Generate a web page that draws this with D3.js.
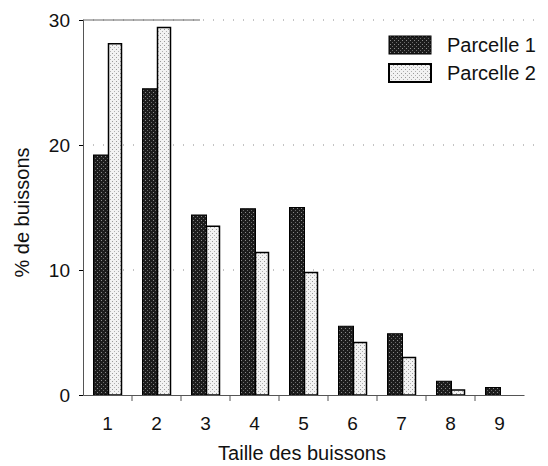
<!DOCTYPE html>
<html>
<head>
<meta charset="utf-8">
<script src="https://cdn.jsdelivr.net/npm/d3@7"></script>
<style>
body { margin: 0; background: #fff; }
text { font-family: "Liberation Sans", Arial, sans-serif; fill: #111; }
</style>
</head>
<body>
<script>
const categories = ["1","2","3","4","5","6","7","8","9"];
const parcelle1 = [19.2, 24.5, 14.4, 14.9, 15.0, 5.5, 4.9, 1.1, 0.6];
const parcelle2 = [28.1, 29.4, 13.5, 11.4, 9.8, 4.2, 3.0, 0.4, 0];
const yTicks = [0, 10, 20, 30];
const seriesNames = ["Parcelle 1", "Parcelle 2"];

const W = 548, H = 466;
const svg = d3.select("body").append("svg").attr("width", W).attr("height", H);

const defs = svg.append("defs");
// stippled fills
const p1 = defs.append("pattern").attr("id","dark").attr("patternUnits","userSpaceOnUse")
  .attr("width",4).attr("height",4);
p1.append("rect").attr("width",4).attr("height",4).attr("fill","#1c1c1c");
p1.append("rect").attr("x",1).attr("y",0).attr("width",1).attr("height",1).attr("fill","#8a8a8a");
p1.append("rect").attr("x",3).attr("y",2).attr("width",1).attr("height",1).attr("fill","#6a6a6a");
const p2 = defs.append("pattern").attr("id","light").attr("patternUnits","userSpaceOnUse")
  .attr("width",4).attr("height",4);
p2.append("rect").attr("width",4).attr("height",4).attr("fill","#f2f2f2");
p2.append("rect").attr("x",0).attr("y",1).attr("width",1).attr("height",1).attr("fill","#999");
p2.append("rect").attr("x",2).attr("y",3).attr("width",1).attr("height",1).attr("fill","#b0b0b0");

const x0 = 83, x1 = 524, yTop = 20, yBot = 395;

const x = d3.scaleBand().domain(categories).range([x0, x1]);
const y = d3.scaleLinear().domain([0, 30]).range([yBot, yTop]);

// grid
svg.append("g").selectAll("line").data(yTicks.filter(d => d > 0)).join("line")
  .attr("x1", x0).attr("x2", 540)
  .attr("y1", d => y(d)).attr("y2", d => y(d))
  .attr("stroke", "#888").attr("stroke-width", 1)
  .attr("stroke-dasharray", "1,9");
// top line is heavier near the axis
svg.append("line").attr("x1", x0).attr("x2", 200)
  .attr("y1", y(30)).attr("y2", y(30)).attr("stroke", "#666");

// y axis
const ya = svg.append("g").attr("transform", `translate(${x0},0)`)
  .call(d3.axisLeft(y).tickValues(yTicks).tickSize(4).tickPadding(9));
ya.select(".domain").attr("stroke", "#555");
ya.selectAll("text").style("font-size", "19px").attr("font-family", "Liberation Sans, Arial, sans-serif");

// bars
const g = svg.append("g").selectAll("g").data(categories).join("g");
g.append("rect")
  .attr("x", d => x(d) + x.bandwidth()/2 - 14)
  .attr("width", 15)
  .attr("y", (d, i) => y(parcelle1[i]))
  .attr("height", (d, i) => yBot - y(parcelle1[i]))
  .attr("fill", "url(#dark)").attr("stroke", "#000").attr("stroke-width", 1);
g.filter((d, i) => parcelle2[i] > 0).append("rect")
  .attr("x", d => x(d) + x.bandwidth()/2 + 1)
  .attr("width", 13)
  .attr("y", d => y(parcelle2[categories.indexOf(d)]))
  .attr("height", d => yBot - y(parcelle2[categories.indexOf(d)]))
  .attr("fill", "url(#light)").attr("stroke", "#000").attr("stroke-width", 1.5);

// x axis
const xa = svg.append("g").attr("transform", `translate(0,${yBot})`)
  .call(d3.axisBottom(x).tickSize(0).tickPadding(22));
xa.select(".domain").attr("stroke", "#555");
xa.selectAll("text").style("font-size", "19px").attr("font-family", "Liberation Sans, Arial, sans-serif");
svg.append("g").selectAll("line").data(categories.slice(1)).join("line")
  .attr("x1", d => x(d)).attr("x2", d => x(d))
  .attr("y1", yBot).attr("y2", yBot + 6)
  .attr("stroke", "#555");

// axis titles
svg.append("text").attr("x", 302).attr("y", 460)
  .attr("text-anchor", "middle").style("font-size", "20px").text("Taille des buissons");
svg.append("text").attr("transform", `translate(29,${(yTop + yBot)/2 + 5}) rotate(-90)`)
  .attr("text-anchor", "middle").style("font-size", "20px").text("% de buissons");

// legend
const leg = svg.append("g").selectAll("g").data(seriesNames).join("g")
  .attr("transform", (d, i) => `translate(389,${36 + i*28})`);
leg.append("rect").attr("width", 42).attr("height", 18)
  .attr("fill", (d, i) => i ? "url(#light)" : "url(#dark)")
  .attr("stroke", "#000").attr("stroke-width", (d, i) => i ? 2 : 1);
leg.append("text").attr("x", 58).attr("y", 16).style("font-size", "20px").text(d => d);
</script>
</body>
</html>
